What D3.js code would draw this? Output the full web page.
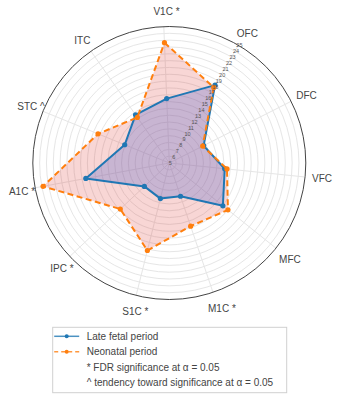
<!DOCTYPE html>
<html>
<head>
<meta charset="utf-8">
<script src="https://cdn.jsdelivr.net/npm/d3@7"></script>
<style>
  body { margin: 0; background: #fff; }
  text { font-family: "Liberation Sans", Arial, sans-serif; }
</style>
</head>
<body>
<svg id="chart"></svg>
<script>
// regions around the circle, clockwise from the top
const regions = ['V1C', 'OFC', 'DFC', 'VFC', 'MFC', 'M1C', 'S1C', 'IPC', 'A1C', 'STC', 'ITC'];
const marks = ['*', '', '', '', '', '*', '*', '*', '*', '^', ''];

const lateFetal = [14.44, 18.23, 10.64, 13.16, 15.05, 10.14, 10.38, 10.01, 17.44, 12.06, 13.62];
const neonatal  = [22.64, 17.85, 10.48, 13.50, 16.00, 14.77, 18.22, 14.85, 23.81, 16.28, 13.16];

const radialTicks = d3.range(5, 26);

const legendNames = ['Late fetal period', 'Neonatal period',
  '* FDR significance at \u03b1 = 0.05', '^ tendency toward significance at \u03b1 = 0.05'];

const width = 339, height = 400;
const cx = 169.3, cy = 163, R = 136.5;
const rotation = -2.3 * Math.PI / 180;

const svg = d3.select('#chart').attr('width', width).attr('height', height);
const g = svg.append('g').attr('transform', `translate(${cx},${cy})`);

const angle = d3.scalePoint()
  .domain(regions)
  .range([0, 2 * Math.PI * (regions.length - 1) / regions.length])
  .padding(0);
const theta = d => angle(d) + rotation;

const rScale = d3.scaleLinear().domain([5, 25]).range([0, R]);

// grid circles
g.selectAll('circle.grid')
  .data(radialTicks.filter(t => t > 5 && t < 25))
  .join('circle')
  .attr('class', 'grid')
  .attr('r', d => rScale(d))
  .attr('fill', 'none')
  .attr('stroke', '#e6e6e6')
  .attr('stroke-width', 1);

// spokes
g.selectAll('line.spoke')
  .data(regions)
  .join('line')
  .attr('class', 'spoke')
  .attr('x1', 0).attr('y1', 0)
  .attr('x2', d => R * Math.sin(theta(d)))
  .attr('y2', d => -R * Math.cos(theta(d)))
  .attr('stroke', '#e6e6e6')
  .attr('stroke-width', 1);

const series = [
  { name: 'late', values: lateFetal, color: '#1f77b4', fill: 'rgba(58,118,245,0.3)', dash: null },
  { name: 'neo', values: neonatal, color: '#ff7f0e', fill: 'rgba(220,50,47,0.2)', dash: '6,3.5' }
];

const radial = d3.lineRadial()
  .angle((d, i) => theta(regions[i]))
  .radius(d => rScale(d))
  .curve(d3.curveLinearClosed);

// fills first, then lines and markers on top
series.forEach(s => {
  g.append('path')
    .attr('d', radial(s.values))
    .attr('fill', s.fill)
    .attr('stroke', 'none');
});

series.forEach(s => {
  const sg = g.append('g');
  sg.append('path')
    .attr('d', radial(s.values))
    .attr('fill', 'none')
    .attr('stroke', s.color)
    .attr('stroke-width', 2)
    .attr('stroke-dasharray', s.dash)
    .attr('stroke-linejoin', 'round');
  sg.selectAll('circle')
    .data(s.values)
    .join('circle')
    .attr('cx', (d, i) => rScale(d) * Math.sin(theta(regions[i])))
    .attr('cy', (d, i) => -rScale(d) * Math.cos(theta(regions[i])))
    .attr('r', 2.6)
    .attr('fill', s.color);
});

// outer circle
g.append('circle')
  .attr('r', R)
  .attr('fill', 'none')
  .attr('stroke', '#444')
  .attr('stroke-width', 1);

// radial tick labels along the OFC spoke
const tickAngle = theta('OFC');
g.selectAll('text.rtick')
  .data(radialTicks)
  .join('text')
  .attr('class', 'rtick')
  .attr('x', d => rScale(d) * Math.sin(tickAngle) + 1)
  .attr('y', d => -rScale(d) * Math.cos(tickAngle) + 2)
  .attr('text-anchor', 'middle')
  .attr('font-size', 5.5)
  .attr('fill', '#555')
  .text(d => d);

// angular labels
const fs = 10, padX = 7, padY = 9.5;
regions.forEach((reg, i) => {
  const t = theta(reg);
  const cosM = Math.sin(t), sinM = Math.cos(t);
  const px = R * Math.sin(t), py = -R * Math.cos(t);
  const txt = g.append('text')
    .attr('font-size', fs)
    .attr('fill', '#444')
    .text(reg);
  const wBase = txt.node().getComputedTextLength();
  if (marks[i]) txt.text(reg + ' ' + marks[i]);
  const ff = sinM > 0 ? 0.2 : 1;
  txt.attr('x', px + padX * cosM - 0.5 * (1 - cosM) * wBase)
    .attr('y', py - sinM * (padY + fs * ff) + Math.abs(cosM) * fs * 0.35);
});

// legend
const lg = svg.append('g').attr('transform', 'translate(52.7,327.3)');
lg.append('rect')
  .attr('width', 234).attr('height', 65.4)
  .attr('fill', '#fff')
  .attr('stroke', '#d0d0d0')
  .attr('stroke-width', 1);

const rowY = i => 9 + i * 15.4;
legendNames.forEach((name, i) => {
  const row = lg.append('g').attr('transform', `translate(0,${rowY(i)})`);
  const s = series[i];
  if (s) {
    row.append('line')
      .attr('x1', 1.5).attr('x2', 26.5)
      .attr('y1', 0).attr('y2', 0)
      .attr('stroke', s.color)
      .attr('stroke-width', 1.5)
      .attr('stroke-dasharray', s.dash ? '4,3' : null)
      .attr('opacity', 0.8);
    row.append('circle')
      .attr('cx', 14).attr('cy', 0).attr('r', 2)
      .attr('fill', s.color);
  }
  row.append('text')
    .attr('x', 34).attr('y', 3.5)
    .attr('font-size', fs)
    .attr('fill', '#444')
    .text(name);
});
</script>
</body>
</html>
